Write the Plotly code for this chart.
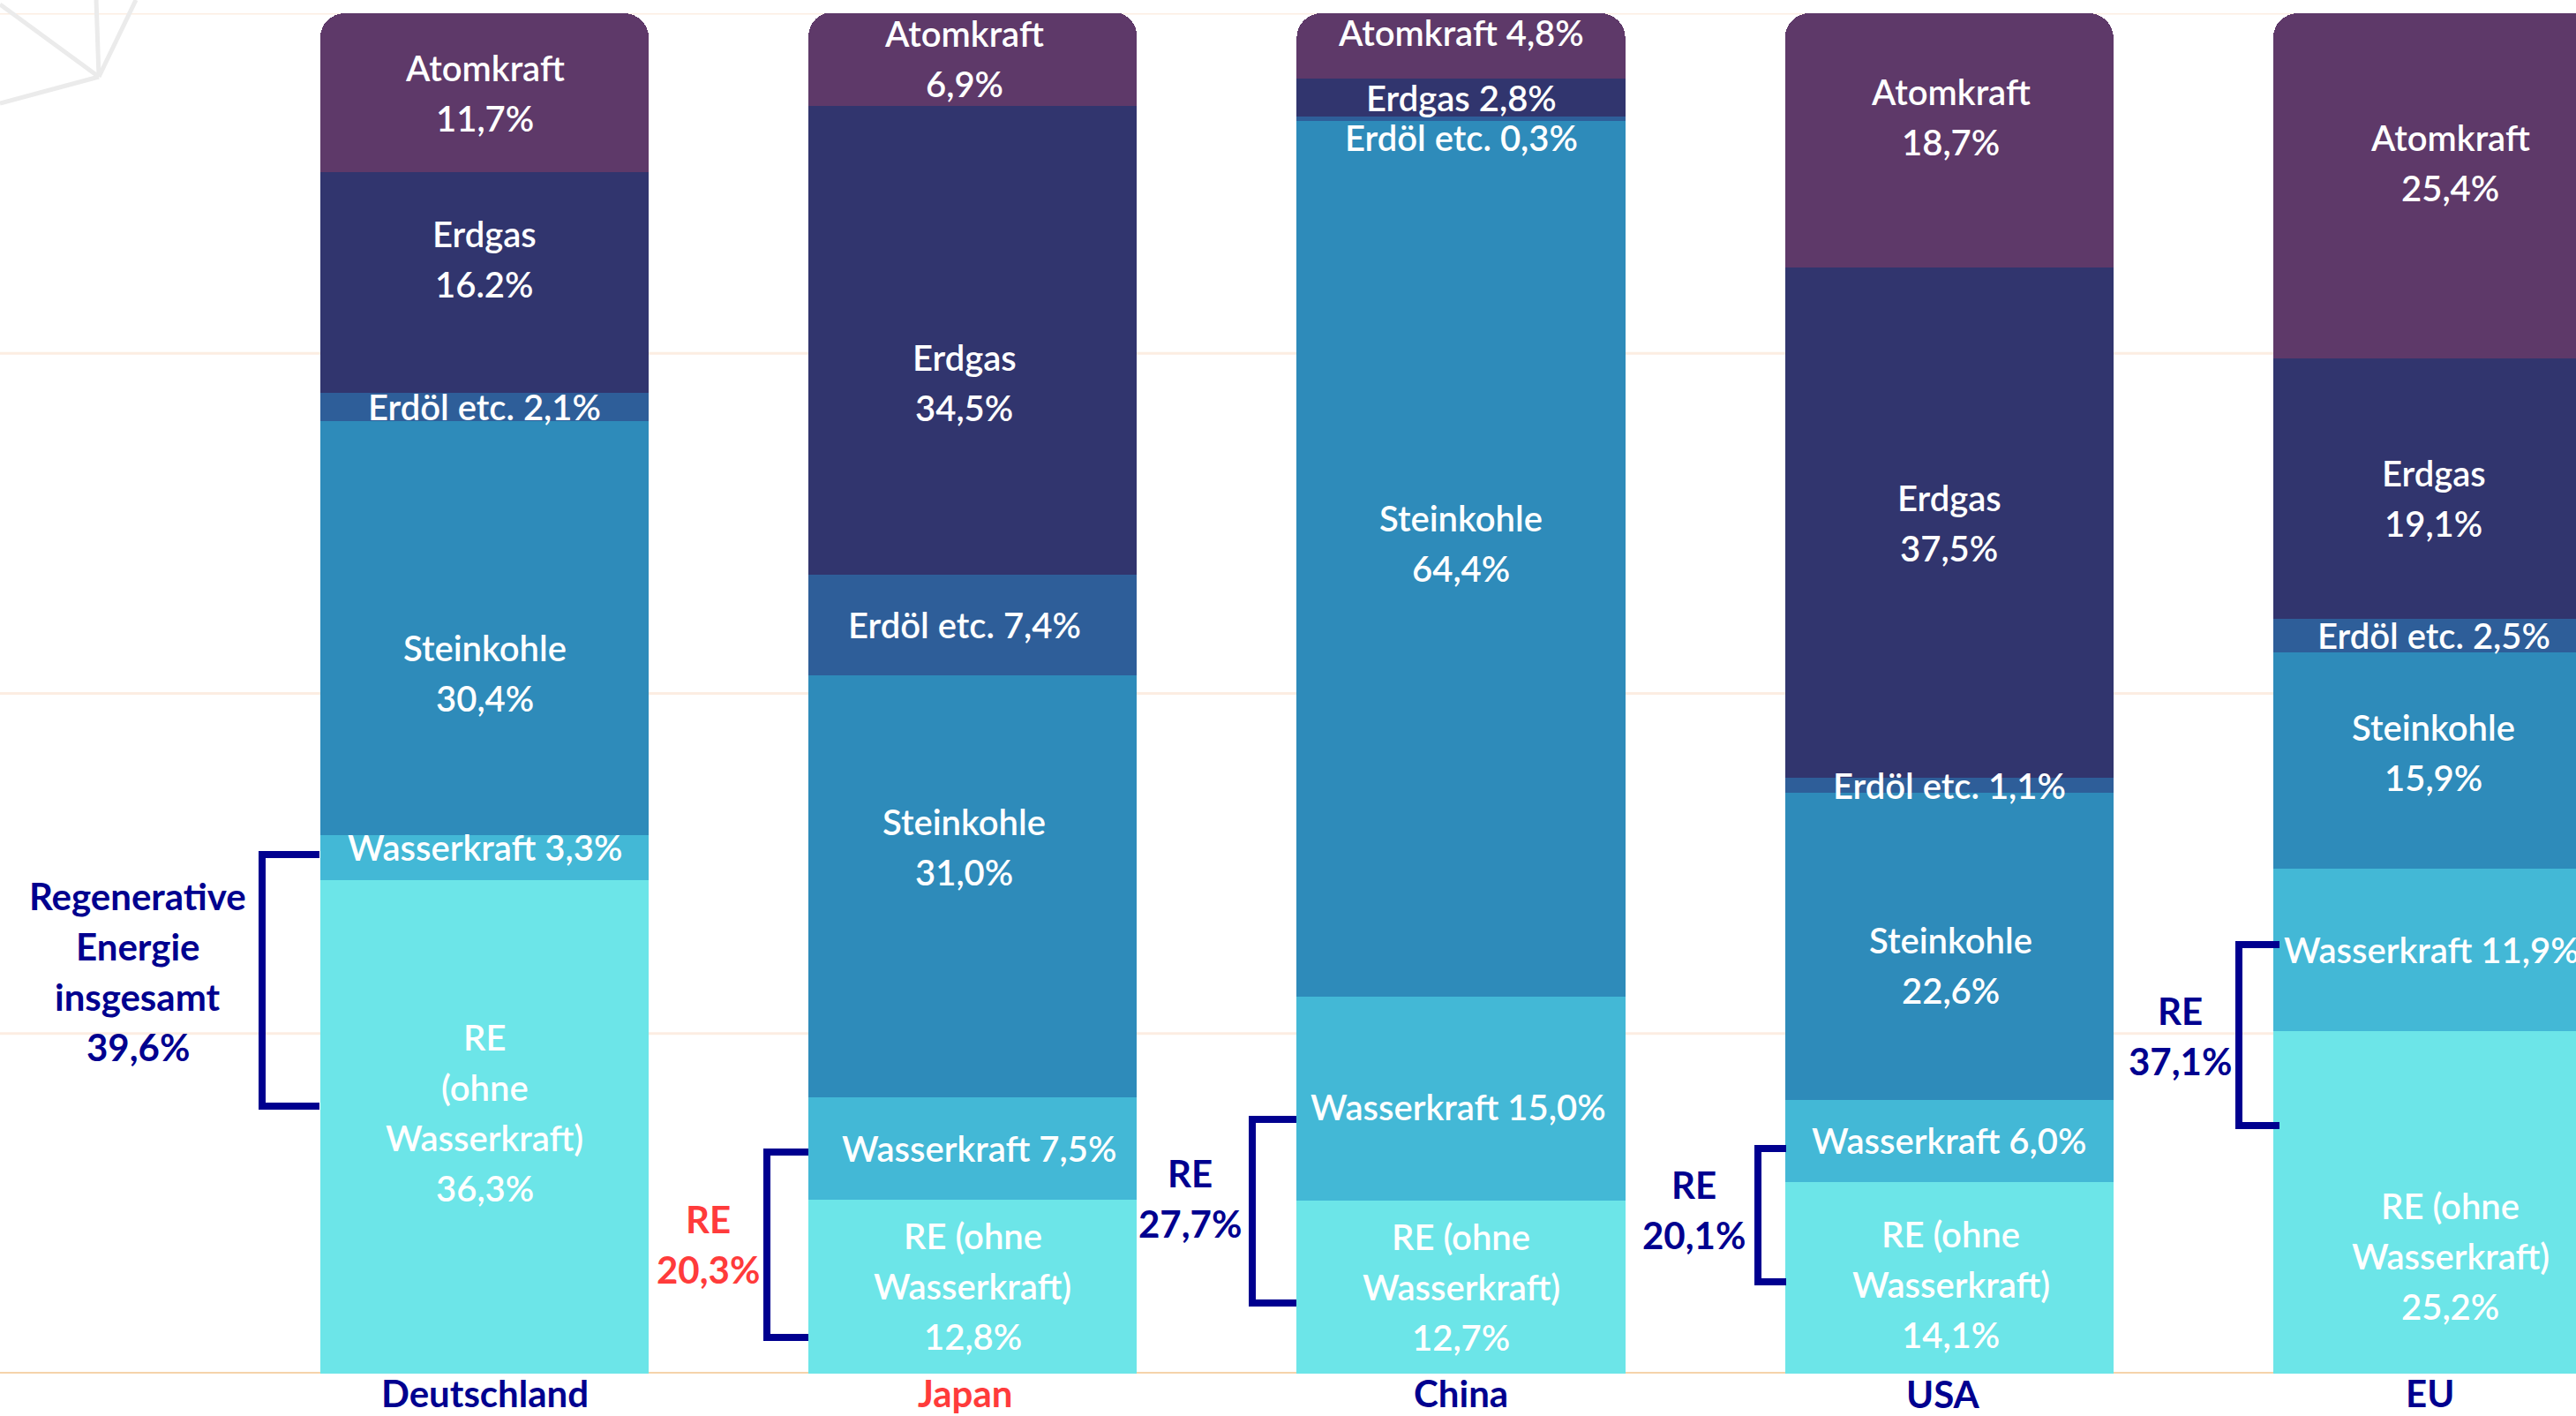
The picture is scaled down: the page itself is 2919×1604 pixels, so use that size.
import plotly.graph_objects as go

# ---------------- data ----------------
countries = ["Deutschland", "Japan", "China", "USA", "EU"]
country_colors = ["#00008f", "#ff3b3b", "#00008f", "#00008f", "#00008f"]

atomkraft = [11.7, 6.9, 4.8, 18.7, 25.4]
erdgas = [16.2, 34.5, 2.8, 37.5, 19.1]
erdoel = [2.1, 7.4, 0.3, 1.1, 2.5]
steinkohle = [30.4, 31.0, 64.4, 22.6, 15.9]
wasserkraft = [3.3, 7.5, 15.0, 6.0, 11.9]
re_ohne = [36.3, 12.8, 12.7, 14.1, 25.2]
re_total = [39.6, 20.3, 27.7, 20.1, 37.1]

lbl_atom = ["Atomkraft<br>11,7%", "Atomkraft<br>6,9%", "Atomkraft 4,8%", "Atomkraft<br>18,7%", "Atomkraft<br>25,4%"]
lbl_gas = ["Erdgas<br>16.2%", "Erdgas<br>34,5%", "Erdgas 2,8%", "Erdgas<br>37,5%", "Erdgas<br>19,1%"]
lbl_oel = ["Erdöl etc. 2,1%", "Erdöl etc. 7,4%", "Erdöl etc. 0,3%", "Erdöl etc. 1,1%", "Erdöl etc. 2,5%"]
lbl_kohle = ["Steinkohle<br>30,4%", "Steinkohle<br>31,0%", "Steinkohle<br>64,4%", "Steinkohle<br>22,6%", "Steinkohle<br>15,9%"]
lbl_wasser = ["Wasserkraft 3,3%", "Wasserkraft 7,5%", "Wasserkraft 15,0%", "Wasserkraft 6,0%", "Wasserkraft 11,9%"]
lbl_re = ["RE<br>(ohne<br>Wasserkraft)<br>36,3%", "RE (ohne<br>Wasserkraft)<br>12,8%",
          "RE (ohne<br>Wasserkraft)<br>12,7%", "RE (ohne<br>Wasserkraft)<br>14,1%",
          "RE (ohne<br>Wasserkraft)<br>25,2%"]
lbl_re_total = ["Regenerative<br>Energie<br>insgesamt<br>39,6%", "RE<br>20,3%", "RE<br>27,7%", "RE<br>20,1%", "RE<br>37,1%"]

# ---------------- style / layout ----------------
W, H = 2919, 1604
series = [
    ("RE (ohne Wasserkraft)", re_ohne, lbl_re, "#6ce5e8"),
    ("Wasserkraft", wasserkraft, lbl_wasser, "#43b8d6"),
    ("Steinkohle", steinkohle, lbl_kohle, "#2e8bba"),
    ("Erdöl etc.", erdoel, lbl_oel, "#2e5e99"),
    ("Erdgas", erdgas, lbl_gas, "#31356e"),
    ("Atomkraft", atomkraft, lbl_atom, "#5e3969"),
]
# small label nudges (x in category units, y in value units) to mimic the reference placement
nudge = {
    ("Erdgas", 0): (0, 1.7), ("Steinkohle", 0): (0, -3.3), ("Wasserkraft", 0): (0, 0.7), ("RE (ohne Wasserkraft)", 0): (0, 1.0),
    ("Atomkraft", 1): (-0.017, 0), ("Erdgas", 1): (-0.017, -3.1), ("Erdöl etc.", 1): (-0.017, 0),
    ("Steinkohle", 1): (-0.017, 2.9), ("Wasserkraft", 1): (0.013, 0),
    ("Atomkraft", 2): (0, 1.0), ("Erdöl etc.", 2): (0, -1.4), ("Steinkohle", 2): (0, 1.1), ("Wasserkraft", 2): (-0.006, -0.6),
    ("Atomkraft", 3): (0.004, 1.7), ("Steinkohle", 3): (0.004, -1.4), ("RE (ohne Wasserkraft)", 3): (0.004, -0.5),
    ("Atomkraft", 4): (0.027, 1.7), ("Erdgas", 4): (-0.008, -0.7), ("Erdöl etc.", 4): (-0.008, 0),
    ("Steinkohle", 4): (-0.008, 0.6), ("Wasserkraft", 4): (-0.012, 0), ("RE (ohne Wasserkraft)", 4): (0.027, -4.0),
}

PX0, PXU = 549.0, 553.25     # pixel of category 0, pixels per category
PY0, PYU = 1556.0, 15.41     # pixel of value 0, pixels per percent
def dx(px):
    return (px - PX0) / PXU
def dy(py):
    return (PY0 - py) / PYU
def ppx(px):
    return px / W
def ppy(py):
    return (PY0 - py) / (PYU * 100)

FONT = "Lato"
NAVY = "#00008f"
LS = 57 / PYU  # line spacing in value units
BARW = 0.673

xpos = list(range(len(countries)))

fig = go.Figure()
for name, vals, _, col in series:
    fig.add_trace(go.Bar(x=xpos, y=vals, name=name, width=BARW,
                         marker=dict(color=col, line=dict(width=0)),
                         hoverinfo="skip", showlegend=False))

annotations = []
def add_lines(x, yc, text, color, size, weight="normal"):
    lines = text.split("<br>")
    n = len(lines)
    for i, ln in enumerate(lines):
        y = yc + (n - 1) / 2 * LS - i * LS
        annotations.append(dict(x=x, y=y, xref="x", yref="y", text=ln, showarrow=False,
                                xanchor="center", yanchor="middle",
                                font=dict(family=FONT, size=size, color=color, weight=weight)))

# segment labels
for ci in range(len(countries)):
    base = 0.0
    for name, vals, labels, col in series:
        v = vals[ci]
        nx, ny = nudge.get((name, ci), (0, 0))
        add_lines(ci + nx, base + v / 2 + ny, labels[ci], "white", 40, 600)
        base += v

# category labels (below the plot area -> paper coordinates)
cat_px = [549, 1093, 1655, 2202, 2753]
cat_py = [1578, 1578, 1578, 1579, 1578]
for ci, c in enumerate(countries):
    annotations.append(dict(x=ppx(cat_px[ci]), y=ppy(cat_py[ci]), xref="paper", yref="paper", text=c,
                            showarrow=False, xanchor="center", yanchor="middle",
                            font=dict(family=FONT, size=42, color=country_colors[ci], weight="bold")))

# brackets: (x vertical, x tick end, y top, y bottom, text x, text y) in pixels
brackets = [
    (297, 362, 968, 1253, 156, 1100),
    (869, 916, 1305, 1515, 802, 1409),
    (1419, 1469, 1268, 1476, 1348, 1357),
    (1992, 2024, 1301, 1452, 1919, 1370),
    (2537, 2583, 1070, 1275, 2470, 1173),
]
shapes = []
for ci, (xv, xt, yt, yb, tx, ty) in enumerate(brackets):
    path = f"M {dx(xt)} {dy(yt)} L {dx(xv)} {dy(yt)} L {dx(xv)} {dy(yb)} L {dx(xt)} {dy(yb)}"
    shapes.append(dict(type="path", path=path, xref="x", yref="y",
                       line=dict(color=NAVY, width=8), layer="above"))
    add_lines(dx(tx), dy(ty), lbl_re_total[ci], country_colors[ci], 42, "bold")

# gridlines (drawn below bars)
for gv in [25, 50, 75, 100]:
    shapes.append(dict(type="line", xref="paper", x0=0, x1=1, yref="y", y0=gv, y1=gv,
                       line=dict(color="#fcede2", width=3), layer="below"))
shapes.append(dict(type="line", xref="paper", x0=0, x1=1, yref="y", y0=0, y1=0,
                   line=dict(color="#f5d3ab", width=4), layer="below"))

# decorative geometric lines in the top-left corner (pixel -> paper)
deco = [((0, 5), (112, 87)), ((109, 0), (112, 87)), ((154, 0), (112, 87)), ((112, 87), (0, 117))]
for (x0, y0), (x1, y1) in deco:
    shapes.append(dict(type="line", xref="paper", yref="paper",
                       x0=ppx(x0), y0=ppy(y0), x1=ppx(x1), y1=ppy(y1),
                       line=dict(color="#ebebeb", width=5), layer="below"))

fig.update_layout(
    width=W, height=H,
    barmode="stack", barcornerradius=28,
    paper_bgcolor="white", plot_bgcolor="white",
    margin=dict(l=0, r=0, t=PY0 - 100 * PYU, b=H - PY0, pad=0),
    xaxis=dict(range=[dx(0), dx(W)], showgrid=False, zeroline=False, showticklabels=False,
               showline=False, ticks="", fixedrange=True),
    yaxis=dict(range=[0, 100], showgrid=False, zeroline=False, showticklabels=False,
               showline=False, ticks="", fixedrange=True),
    annotations=annotations, shapes=shapes, showlegend=False,
)

fig.write_html("out.html", config={"displayModeBar": False},
               post_script="document.body.style.margin='0';document.body.style.overflow='hidden';")
